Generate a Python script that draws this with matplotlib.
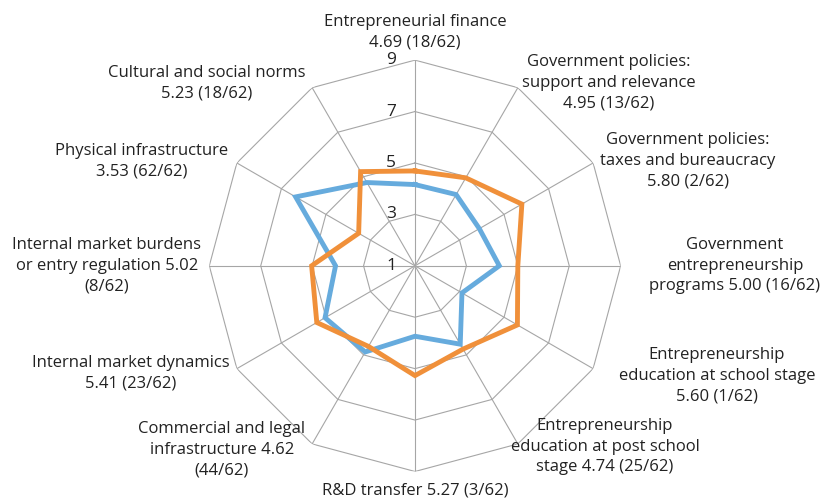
import numpy as np
import matplotlib.pyplot as plt

# pillar labels, clockwise from the top
labels = ['Entrepreneurial finance\n4.69 (18/62)',
          'Government policies:\nsupport and relevance\n4.95 (13/62)',
          'Government policies:\ntaxes and bureaucracy\n5.80 (2/62)',
          'Government\nentrepreneurship\nprograms 5.00 (16/62)',
          'Entrepreneurship\neducation at school stage\n5.60 (1/62)',
          'Entrepreneurship\neducation at post school\nstage 4.74 (25/62)',
          'R&D transfer 5.27 (3/62)',
          'Commercial and legal\ninfrastructure 4.62\n(44/62)',
          'Internal market dynamics\n5.41 (23/62)',
          'Internal market burdens\nor entry regulation 5.02\n(8/62)',
          'Physical infrastructure\n3.53 (62/62)',
          'Cultural and social norms\n5.23 (18/62)']
country = [4.69, 4.95, 5.80, 5.00, 5.60, 4.74, 5.27, 4.62, 5.41, 5.02, 3.53, 5.23]
average = [4.16, 4.20, 3.89, 4.28, 3.11, 4.52, 3.74, 4.87, 5.04, 4.09, 6.36, 4.74]
rings = [1, 3, 5, 7, 9]

# label offsets from the centre, in pixels (x right, y up)
offsets = [(0, 234), (194, 183), (273, 105), (320, 0), (302, -110), (190, -181),
           (0, -225), (-193, -184), (-284, -107), (-308, 0), (-273, 105), (-208, 183)]

plt.rcParams['font.family'] = ['Open Sans', 'DejaVu Sans']

n = len(labels)
theta = np.arange(n) * 2 * np.pi / n
closed = np.append(theta, theta[0])

fig = plt.figure(figsize=(8.22, 5.01), dpi=100)
ax = fig.add_axes([0.2546, 0.0589, 0.5005, 0.8211], projection='polar')
ax.set_theta_zero_location('N')
ax.set_theta_direction(-1)
ax.set_ylim(1, 9)
ax.grid(False)
ax.set_xticks([])
ax.set_yticks([])
ax.spines['polar'].set_visible(False)

grid_col = '#a6a6a6'
for r in rings[1:]:
    ax.plot(closed, [r] * (n + 1), color=grid_col, lw=0.8, zorder=1)
for t in theta:
    ax.plot([t, t], [1, 9], color=grid_col, lw=0.8, zorder=1)

ax.plot(closed, average + average[:1], color='#66abdd', lw=3.5, zorder=3,
        solid_joinstyle='miter')
ax.plot(closed, country + country[:1], color='#f0903a', lw=3.5, zorder=4,
        solid_joinstyle='miter')

for r in rings:
    ax.annotate(str(r), xy=(0, r), xytext=(-19, 0), textcoords='offset pixels',
                ha='right', va='center', fontsize=12.5, color='#222222')

for lab, (dx, dy) in zip(labels, offsets):
    ax.annotate(lab, xy=(0, 1), xytext=(dx, dy), textcoords='offset pixels',
                ha='center', va='center', fontsize=12, color='#222222',
                linespacing=1.38, annotation_clip=False)

fig.savefig('out.png', dpi=100)
